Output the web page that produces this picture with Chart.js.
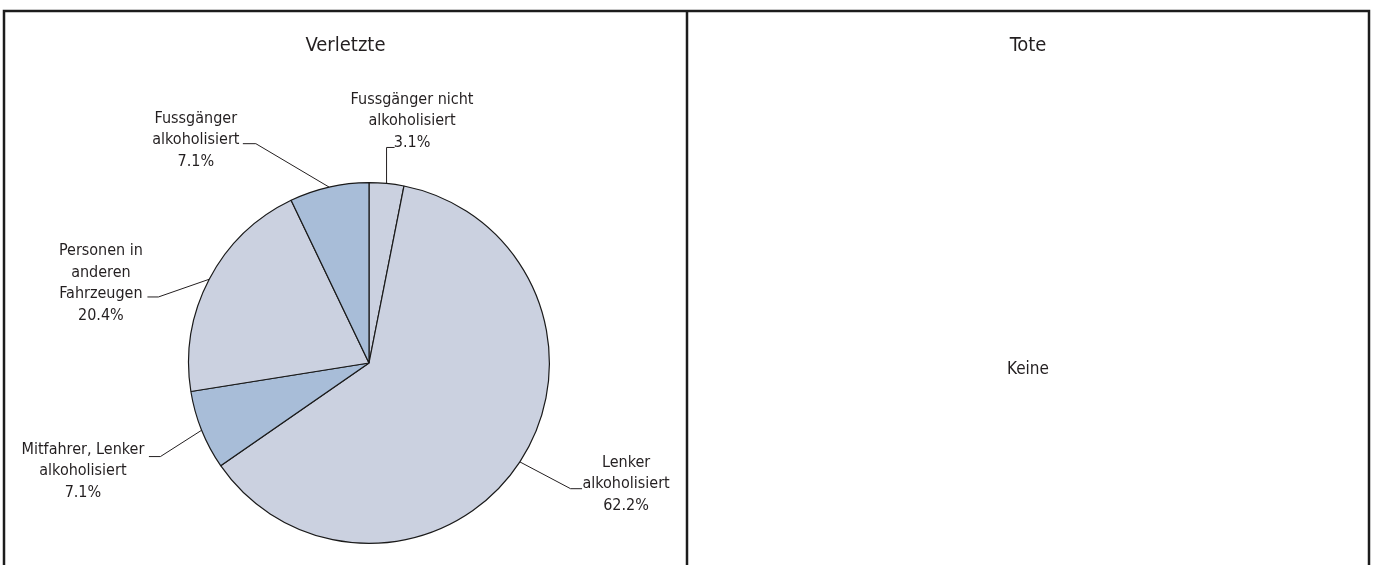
<!DOCTYPE html>
<html>
<head>
<meta charset="utf-8">
<title>Verletzte / Tote</title>
<script src="https://cdn.jsdelivr.net/npm/chart.js@4/dist/chart.umd.min.js"></script>
<style>
  html, body { margin: 0; padding: 0; background: #fff; }
  #wrap { position: absolute; left: 0; top: 0; width: 1375px; height: 565px; }
</style>
</head>
<body>
<div id="wrap"><canvas id="pie-chart"></canvas></div>
<script>
// data
const sliceNames = [
  ['Fussgänger nicht', 'alkoholisiert'],
  ['Lenker', 'alkoholisiert'],
  ['Mitfahrer, Lenker', 'alkoholisiert'],
  ['Personen in', 'anderen', 'Fahrzeugen'],
  ['Fussgänger', 'alkoholisiert']
];
const shares = [3.1, 62.2, 7.1, 20.4, 7.1];
const panelTitles = ['Verletzte', 'Tote'];
const emptyNote = 'Keine';

const sliceColors = ['#cbd1e0', '#cbd1e0', '#a8bdd8', '#cbd1e0', '#a8bdd8'];
const FONT = '"DejaVu Sans Condensed", "Liberation Sans", sans-serif';
const INK = '#231f20';

// leader line layout: elbow offset from the slice edge, tail length,
// text centre offset from tail end, first line offset
const leaders = [
  { ex: 0, ey: -36, tail: 8, tx: 17.5, ty: -48 },
  { ex: 50.7, ey: 26.8, tail: 11.5, tx: 44, ty: -26 },
  { ex: -41.2, ey: 26.3, tail: -11.5, tx: -66, ty: -7 },
  { ex: -50.8, ey: 17.7, tail: -11, tx: -46.5, ty: -46 },
  { ex: -73.2, ey: -43.4, tail: -13, tx: -47, ty: -25 }
];
const lineH = 21.5;

const framePlugin = {
  id: 'frame',
  beforeDraw(chart) {
    const ctx = chart.ctx;
    ctx.save();
    ctx.strokeStyle = '#1c1c1c';
    ctx.lineWidth = 2.5;
    ctx.beginPath();
    ctx.moveTo(4, 565); ctx.lineTo(4, 11); ctx.lineTo(1369, 11); ctx.lineTo(1369, 565);
    ctx.moveTo(687, 11); ctx.lineTo(687, 565);
    ctx.stroke();

    ctx.fillStyle = INK;
    ctx.textAlign = 'center';
    ctx.textBaseline = 'alphabetic';
    ctx.font = '20px ' + FONT;
    ctx.fillText(panelTitles[0], 345.5, 51);
    ctx.fillText(panelTitles[1], 1028, 51);
    ctx.font = '17px ' + FONT;
    ctx.fillText(emptyNote, 1028, 374);
    ctx.restore();
  }
};

const labelPlugin = {
  id: 'leaderLabels',
  afterDatasetsDraw(chart) {
    const ctx = chart.ctx;
    const arcs = chart.getDatasetMeta(0).data;
    ctx.save();
    ctx.strokeStyle = INK;
    ctx.lineWidth = 1;
    ctx.fillStyle = INK;
    ctx.font = '16px ' + FONT;
    ctx.textAlign = 'center';
    ctx.textBaseline = 'middle';
    arcs.forEach((arc, i) => {
      const p = arc.getProps(['x', 'y', 'startAngle', 'endAngle', 'outerRadius'], true);
      const mid = (p.startAngle + p.endAngle) / 2;
      const ax = p.x + Math.cos(mid) * p.outerRadius;
      const ay = p.y + Math.sin(mid) * p.outerRadius;
      const l = leaders[i];
      const bx = ax + l.ex, by = ay + l.ey;
      const cx = bx + l.tail;
      ctx.beginPath();
      ctx.moveTo(ax, ay);
      ctx.lineTo(bx, by);
      ctx.lineTo(cx, by);
      ctx.stroke();
      const lines = sliceNames[i].concat([shares[i].toFixed(1) + '%']);
      lines.forEach((t, k) => {
        ctx.fillText(t, cx + l.tx, by + l.ty + k * lineH);
      });
    });
    ctx.restore();
  }
};

window.onload = function() {
  const ctx = document.getElementById('pie-chart').getContext('2d');
  const pieChart = new Chart(ctx, {
    type: 'pie',
    data: {
      labels: sliceNames.map(n => n.join(' ')),
      datasets: [{
        data: shares,
        backgroundColor: sliceColors,
        borderColor: '#1a1a1a',
        borderWidth: 1.2
      }]
    },
    options: {
      responsive: true,
      maintainAspectRatio: false,
      animation: false,
      layout: {
        padding: { left: 188, right: 825, top: 182, bottom: 21 }
      },
      plugins: {
        legend: { display: false },
        title: { display: false },
        tooltip: { enabled: false }
      }
    },
    plugins: [framePlugin, labelPlugin]
  });
}
</script>
</body>
</html>
